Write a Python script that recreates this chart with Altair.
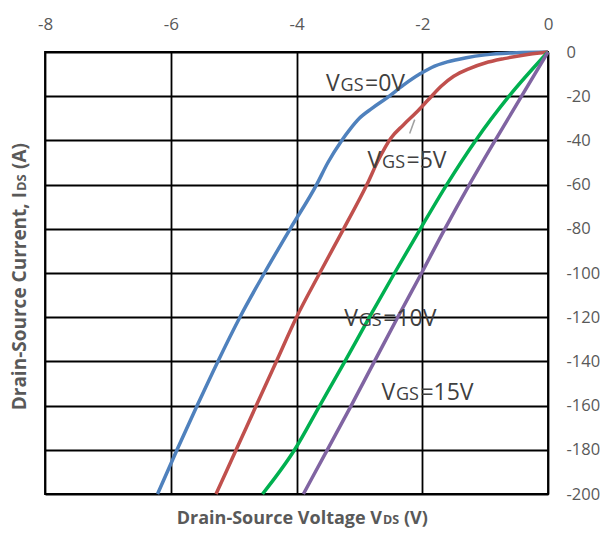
import altair as alt
import pandas as pd

# ---- data ----
series_names = ["VGS=0V", "VGS=5V", "VGS=10V", "VGS=15V"]
series_colors = ["#4F81BD", "#C0504D", "#00B050", "#8064A2"]

vds_0v = [0, -0.5, -1.0, -1.3, -1.6, -1.85, -2.04, -2.3, -2.55, -2.8, -3.0, -3.15, -3.28,
          -3.5, -3.68, -4.1, -4.51, -4.9, -5.25, -5.58, -5.9, -6.21]
ids_0v = [0, -0.3, -1.3, -2.6, -4.5, -7, -10, -15, -20.5, -25.5, -30, -35, -40,
          -50, -60, -80, -100, -120, -140, -160, -180, -200]

vds_5v = [0, -0.3, -0.7, -1.0, -1.25, -1.5, -1.7, -1.9, -2.1, -2.3, -2.5, -2.7, -2.88,
          -3.25, -3.63, -4.0, -4.32, -4.64, -4.96, -5.28]
ids_5v = [0, -1.0, -3.0, -5.0, -7.5, -11, -15.5, -21.5, -27.5, -33, -39, -49, -60,
          -80, -100, -120, -140, -160, -180, -200]

vds_10v = [0, -0.62, -1.15, -1.61, -2.03, -2.44, -2.84, -3.23, -3.63, -4.03, -4.54]
ids_10v = [0, -20, -40, -60, -80, -100, -120, -140, -160, -180, -200]

vds_15v = [0, -0.42, -0.84, -1.25, -1.64, -2.01, -2.39, -2.76, -3.13, -3.51, -3.89]
ids_15v = [0, -20, -40, -60, -80, -100, -120, -140, -160, -180, -200]

x_ticks = [-8, -6, -4, -2, 0]
y_ticks = [-200, -180, -160, -140, -120, -100, -80, -60, -40, -20, 0]

# curve labels: "V" + small "GS" + "=..V"
label_big1 = ["V", "V", "V", "V"]
label_small = ["GS", "GS", "GS", "GS"]
label_big2 = ["=0V", "=5V", "=10V", "=15V"]
label_x = [-3.53, -2.87, -3.24, -2.65]
label_y = [-17.8, -52.5, -124.2, -157.4]

# small leader line next to the VGS=5V label
leader_x = [-2.12]
leader_x2 = [-2.20]
leader_y = [-30.6]
leader_y2 = [-36.9]

x_title_main = "Drain-Source Voltage V"
x_title_sub = "DS"
x_title_end = "(V)"
y_title_main = "Drain-Source Current, I"
y_title_sub = "DS"
y_title_end = "(A)"

# ---- build tables ----
rows = []
for name, vs, is_ in [
    (series_names[0], vds_0v, ids_0v),
    (series_names[1], vds_5v, ids_5v),
    (series_names[2], vds_10v, ids_10v),
    (series_names[3], vds_15v, ids_15v),
]:
    for v, i in zip(vs, is_):
        rows.append({"series": name, "V": v, "I": i})
df = pd.DataFrame(rows)

lab_df = pd.DataFrame({
    "x": label_x, "y": label_y,
    "t1": label_big1, "t2": label_small, "t3": label_big2,
})
lead_df = pd.DataFrame({"x": leader_x, "x2": leader_x2, "y": leader_y, "y2": leader_y2})

PW, PH = 503, 442
FONT = "Open Sans"
TXT = "#404040"
AXC = "#595959"
LBL = "datum.value == 0 ? '0' : '-' + format(abs(datum.value), 'd')"

xscale = alt.Scale(domain=[-8, 0], nice=False, zero=False)
yscale = alt.Scale(domain=[-200, 0], nice=False, zero=False)

lines = alt.Chart(df).mark_line(strokeWidth=3.5, interpolate="monotone").encode(
    x=alt.X("V:Q", scale=xscale,
            axis=alt.Axis(orient="top", values=x_ticks, title=None, grid=True,
                          gridColor="black", gridWidth=1.8, ticks=False, domain=False,
                          labelFont=FONT, labelFontSize=17, labelColor=AXC, labelExpr=LBL,
                          labelPadding=19, labelFlush=False)),
    y=alt.Y("I:Q", scale=yscale,
            axis=alt.Axis(orient="right", values=y_ticks, title=None, grid=True,
                          gridColor="black", gridWidth=1.8, ticks=False, domain=False,
                          labelFont=FONT, labelFontSize=16.5, labelColor=AXC, labelExpr=LBL,
                          labelPadding=18, labelAlign="left", labelFlush=False)),
    color=alt.Color("series:N", scale=alt.Scale(domain=series_names, range=series_colors),
                    legend=None),
    detail="series:N",
)

lab = alt.Chart(lab_df)
t1 = lab.mark_text(align="left", baseline="alphabetic", font=FONT, fontSize=23, color=TXT).encode(
    x=alt.X("x:Q", scale=xscale), y=alt.Y("y:Q", scale=yscale), text="t1:N")
t2 = lab.mark_text(align="left", baseline="alphabetic", font=FONT, fontSize=18, color=TXT, dx=14.5).encode(
    x=alt.X("x:Q", scale=xscale), y=alt.Y("y:Q", scale=yscale), text="t2:N")
t3 = lab.mark_text(align="left", baseline="alphabetic", font=FONT, fontSize=23, color=TXT, dx=39).encode(
    x=alt.X("x:Q", scale=xscale), y=alt.Y("y:Q", scale=yscale), text="t3:N")

leader = alt.Chart(lead_df).mark_rule(color="#A0A0A0", strokeWidth=1.5).encode(
    x=alt.X("x:Q", scale=xscale), x2="x2:Q",
    y=alt.Y("y:Q", scale=yscale), y2="y2:Q")

title_df = pd.DataFrame({"a": [x_title_main], "b": [x_title_sub], "c": [x_title_end],
                         "d": [y_title_main], "e": [y_title_sub], "f": [y_title_end]})
tx = alt.Chart(title_df)
XS, XSS = 18, 12.5
XB = 472
xt1 = tx.mark_text(align="right", baseline="alphabetic", font=FONT, fontSize=XS, fontWeight="bold",
                   color=AXC).encode(x=alt.value(337), y=alt.value(XB), text="a:N")
xt2 = tx.mark_text(align="left", baseline="alphabetic", font=FONT, fontSize=XSS, fontWeight="bold",
                   color=AXC).encode(x=alt.value(338), y=alt.value(XB), text="b:N")
xt3 = tx.mark_text(align="left", baseline="alphabetic", font=FONT, fontSize=XS, fontWeight="bold",
                   color=AXC).encode(x=alt.value(359), y=alt.value(XB), text="c:N")
# y title: rotated pieces; text runs bottom->top
YS, YSS = 19, 13
YX = -19
yt1 = tx.mark_text(align="right", baseline="alphabetic", font=FONT, fontSize=YS, fontWeight="bold",
                   color=AXC, angle=270).encode(x=alt.value(YX), y=alt.value(140), text="d:N")
yt2 = tx.mark_text(align="left", baseline="alphabetic", font=FONT, fontSize=YSS, fontWeight="bold",
                   color=AXC, angle=270).encode(x=alt.value(YX), y=alt.value(139), text="e:N")
yt3 = tx.mark_text(align="left", baseline="alphabetic", font=FONT, fontSize=YS, fontWeight="bold",
                   color=AXC, angle=270).encode(x=alt.value(YX), y=alt.value(117), text="f:N")

chart = alt.layer(lines, leader, t1, t2, t3, xt1, xt2, xt3, yt1, yt2, yt3).properties(
    width=PW, height=PH,
    autosize=alt.AutoSizeParams(type="none"),
    padding={"left": 37, "top": 44, "right": 52, "bottom": 35},
    background="white",
).configure_view(stroke="black", strokeWidth=1.8)

chart.save("out.html", embed_options={"renderer": "svg", "actions": False})
